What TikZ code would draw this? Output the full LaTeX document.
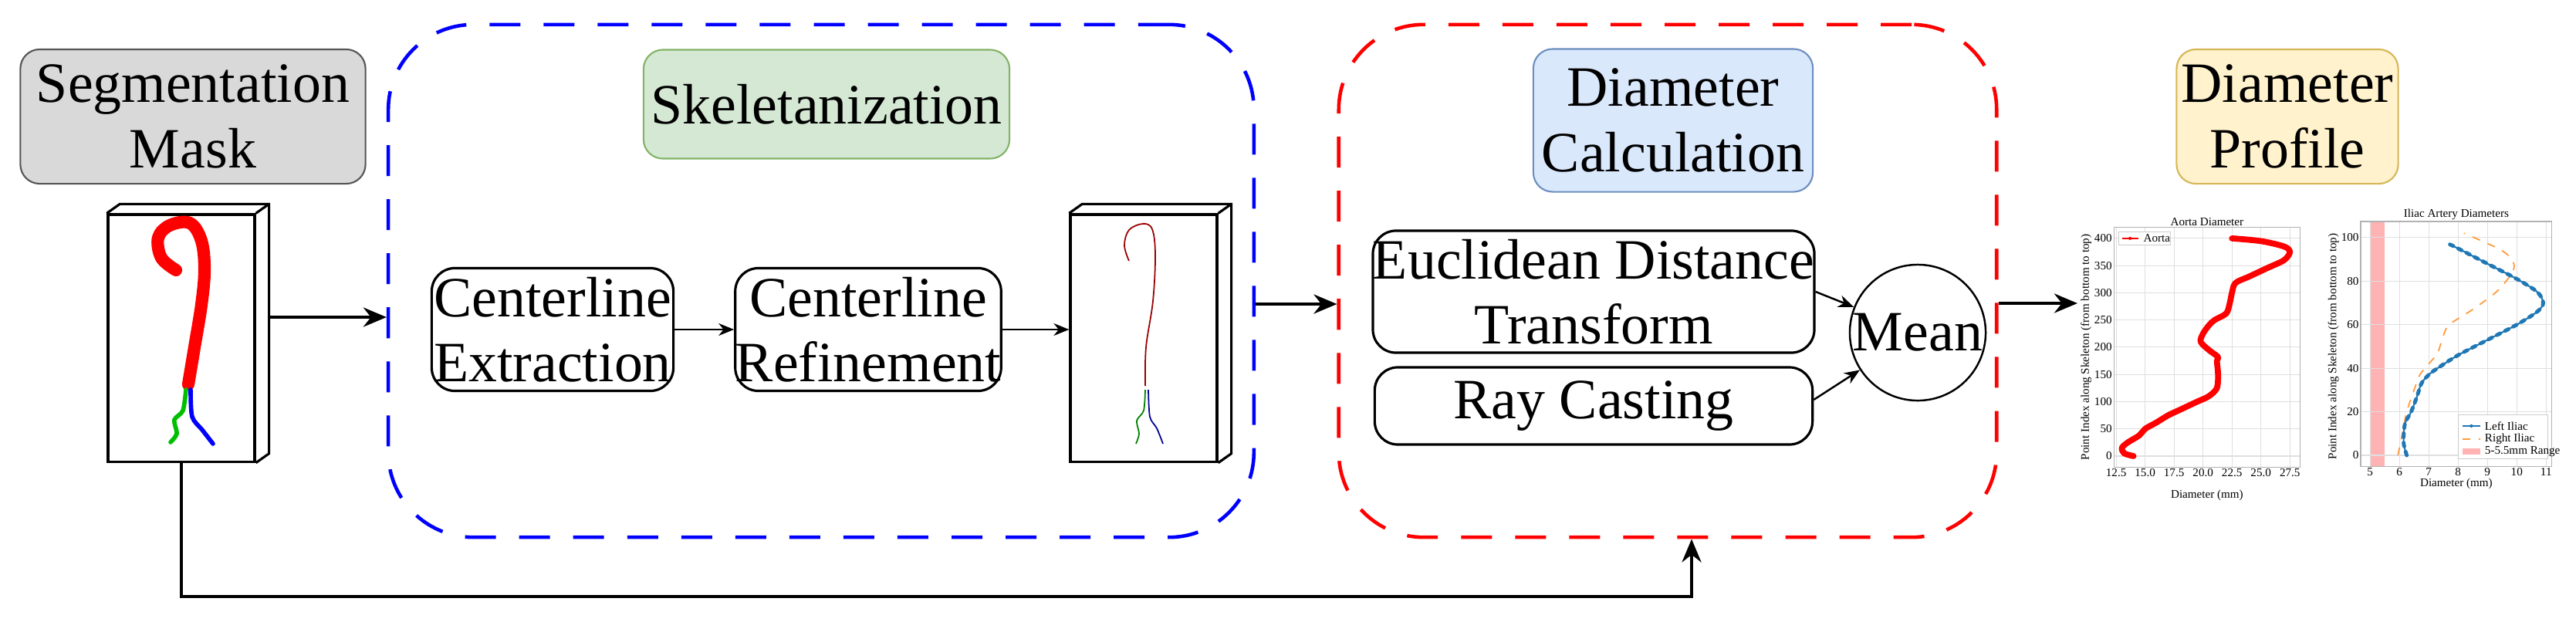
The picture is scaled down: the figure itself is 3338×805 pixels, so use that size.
\documentclass[tikz,border=0pt]{standalone}
\usepackage{fontspec}
\setmainfont{Liberation Serif}
\usetikzlibrary{arrows.meta,calc}
\definecolor{gfill}{HTML}{D5E8D4}\definecolor{gdraw}{HTML}{82B366}
\definecolor{bfill}{HTML}{DAE8FC}\definecolor{bdraw}{HTML}{6C8EBF}
\definecolor{yfill}{HTML}{FFF2CC}\definecolor{ydraw}{HTML}{D6B656}
\definecolor{sfill}{HTML}{D9D9D9}\definecolor{sdraw}{HTML}{555555}
\definecolor{lblue}{HTML}{1F77B4}\definecolor{lorange}{HTML}{FF9A3C}
\definecolor{pinkb}{HTML}{FFB3B3}
\tikzset{
 big/.style={font=\fontsize{21}{24}\selectfont, align=center, inner sep=0pt},
 ttl/.style={big, rounded corners=0.25cm, line width=0.6pt},
 stp/.style={big, draw, rounded corners=0.3cm, line width=0.9pt},
 grp/.style={draw, dashed, dash pattern=on 0.4cm off 0.3cm, line width=1.3pt, rounded corners=1.1cm},
 arr/.style={-{Stealth[length=0.3cm,width=0.25cm]}, line width=1.2pt},
 sarr/.style={-{Stealth[length=0.2cm,width=0.16cm]}, line width=0.7pt},
 vol/.style={draw, line width=0.9pt, minimum width=1.9cm, minimum height=3.2cm, fill=white},
 tk/.style={font=\fontsize{4.3}{5}\selectfont, inner sep=0.5pt},
 gl/.style={gray!25, line width=0.3pt},
}
\newcommand{\volside}[1]{%
 \draw[line width=0.9pt] (#1.north west) -- ++(17,-12) -- ($(#1.north east)+(17,-12)$) -- ($(#1.south east)+(17,-12)$) -- (#1.south east);
 \draw[line width=0.9pt] (#1.north east) -- ++(17,-12);}
\begin{document}
\begin{tikzpicture}[x=0.01cm,y=-0.01cm]
\useasboundingbox (0,0) rectangle (3338,805);
% groups
\node[grp, draw=blue, minimum width=11.21cm, minimum height=6.64cm] (blue) at (1064,364) {};
\node[grp, draw=red, minimum width=8.52cm, minimum height=6.64cm] (red) at (2161,364) {};
% titles
\node[ttl, draw=sdraw, fill=sfill, minimum width=4.47cm, minimum height=1.74cm] (segt) at (250,151) {Segmentation\\Mask};
\node[ttl, draw=gdraw, fill=gfill, minimum width=4.74cm, minimum height=1.41cm] (sket) at (1071,135) {Skeletanization};
\node[ttl, draw=bdraw, fill=bfill, minimum width=3.62cm, minimum height=1.85cm] (diat) at (2168,156) {Diameter\\Calculation};
\node[ttl, draw=ydraw, fill=yfill, minimum width=2.87cm, minimum height=1.74cm] (prof) at (2964,151) {Diameter\\Profile};
% steps
\node[stp, minimum width=3.13cm, minimum height=1.59cm] (ext) at (716,427) {Centerline\\Extraction};
\node[stp, minimum width=3.31cm, minimum height=1.59cm] (ref) at (1125,427) {Centerline\\Refinement};
\node[stp, minimum width=5.67cm, minimum height=1.58cm] (edt) at (2065,378) {Euclidean Distance\\Transform};
\node[stp, minimum width=5.67cm, minimum height=1.0cm] (ray) at (2065,526) {Ray Casting};
\node[big, draw, circle, line width=0.7pt, minimum size=1.76cm] (mean) at (2485,431) {Mean};
% volumes
\node[vol] (mask) at (235,438) {};
\volside{mask}
\node[vol] (skel) at (1482,438) {};
\volside{skel}
% aorta mask
\draw[red, line width=4.6pt, line cap=round, line join=round] plot[smooth, tension=0.6] coordinates {(228,350) (209,334) (205,308) (220,292) (246,289) (261,312) (265,350) (261,395) (252,450) (244,498)};
\draw[green!75!black, line width=1.6pt, line cap=round] plot[smooth] coordinates {(241,505) (237,532) (226,544) (229,562) (221,573)};
\draw[blue, line width=1.6pt, line cap=round] plot[smooth] coordinates {(247,505) (249,540) (262,557) (276,575)};
% skeleton
\begin{scope}[shift={(1247,0)}]
\draw[red!60!black, line width=0.5pt] plot[smooth, tension=0.6] coordinates {(216,338) (210,318) (216,298) (234,290) (246,297) (250,330) (247,390) (238,450) (237,500)};
\draw[green!50!black, line width=0.5pt] plot[smooth] coordinates {(237,505) (235,532) (226,545) (229,562) (225,575)};
\draw[blue!60!black, line width=0.5pt] plot[smooth] coordinates {(241,505) (243,540) (252,555) (260,575)};
\end{scope}
% connectors
\coordinate (m1) at (347,411);
\draw[arr] (m1) -- (m1 -| blue.west);
\draw[sarr] (ext) -- (ref);
\draw[sarr] (ref) -- (ref -| skel.west);
\draw[arr] ($(blue.east)+(0,30)$) -- ($(red.west)+(0,30)$);
\coordinate (pin) at (2692,393);
\draw[arr] (red.east |- pin) -- (pin);
\draw[sarr] (edt.east) -- (mean);
\draw[sarr] ($(ray.east)+(0,-8)$) -- (mean);
\coordinate (fb) at ($(red.south)+(31,0)$);
\draw[arr] (mask.south) -- (mask.south |- 0,773) -- (fb |- 0,773) -- (fb);
% ---------- Aorta plot
\begin{scope}[shift={(2554.5,591)}, x=0.15cm, y=0.00705cm]
\foreach \v in {12.5,15.0,17.5,20.0,22.5,25.0,27.5}{\draw[gl] (\v,-20) -- (\v,420); \node[tk, below] at (\v,-20) {\v};}
\foreach \v in {0,50,...,400}{\draw[gl] (12.3,\v) -- (28.4,\v); \node[tk, left] at (12.3,\v) {\v};}
\draw[gray!60, line width=0.3pt] (12.3,-20) rectangle (28.4,420);
\draw[red, line width=2.2pt, line cap=round, line join=round] plot[smooth] coordinates {(14,0) (13.2,5) (13,15) (13.5,25) (14.5,38) (15,50) (16,62) (17,75) (18,85) (19.5,100) (20.5,110) (21.2,125) (21.3,150) (21.2,175) (21.3,182) (20.5,195) (19.8,210) (20,225) (20.5,240) (21,250) (22,262) (22.3,280) (22.5,300) (22.8,318) (24,330) (25.5,345) (27,360) (27.5,375) (27,385) (25,395) (22.5,400)};
\node[tk] (at) at (20.35,430) {Aorta Diameter};
\node[tk] (ax) at (20.35,-72) {Diameter (mm)};
\node[tk, rotate=90] (ay) at (9.9,200) {Point Index along Skeleton (from bottom to top)};
\draw[gray!40, line width=0.3pt, fill=white] (12.7,388) rectangle (17.2,412);
\draw[red, line width=0.6pt] (13.0,400) -- (14.4,400);
\fill[red] (13.7,400) circle[radius=0.6pt];
\node[tk, anchor=west] (al) at (14.7,400) {Aorta};
\end{scope}
% ---------- Iliac plot
\begin{scope}[shift={(2881,590)}, x=0.38cm, y=0.0282cm]
\fill[pinkb] (5,-5) rectangle (5.5,107.4);
\foreach \v in {5,...,11}{\draw[gl] (\v,-5) -- (\v,107.4); \node[tk, below] at (\v,-5) {\v};}
\foreach \v in {0,20,...,100}{\draw[gl] (4.68,\v) -- (11.2,\v); \node[tk, left] at (4.68,\v) {\v};}
\draw[gray!60, line width=0.3pt] (4.68,-5) rectangle (11.2,107.4);
\draw[lorange, line width=0.5pt, dashed] plot[smooth] coordinates {(5.95,0) (6.1,10) (6.25,20) (6.5,30) (6.7,37) (7,42) (7.3,47) (7.5,55) (7.7,60) (8.5,67) (9.3,75) (9.8,83) (9.9,88) (9.5,94) (8.2,102)};
\draw[lblue, line width=1.4pt, dotted, line cap=round] plot[smooth] coordinates {(6.25,0) (6.15,5) (6.15,10) (6.2,15) (6.4,20) (6.6,27) (6.75,33) (7,37) (7.3,40) (8,46) (9,53) (10,60) (10.7,66) (10.9,70) (10.7,75) (10,81) (9,88) (8,95) (7.7,97)};
\draw[lblue, line width=0.6pt] plot[smooth] coordinates {(6.25,0) (6.15,5) (6.15,10) (6.2,15) (6.4,20) (6.6,27) (6.75,33) (7,37) (7.3,40) (8,46) (9,53) (10,60) (10.7,66) (10.9,70) (10.7,75) (10,81) (9,88) (8,95) (7.7,97)};
\node[tk] (it) at (7.94,110.5) {Iliac Artery Diameters};
\node[tk] (ix) at (7.94,-13) {Diameter (mm)};
\node[tk, rotate=90] (iy) at (3.75,50) {Point Index along Skeleton (from bottom to top)};
\draw[gray!40, line width=0.3pt, fill=white] (8.0,-1.5) rectangle (11.05,18.5);
\draw[lblue, line width=0.6pt] (8.15,13.5) -- (8.75,13.5); \fill[lblue] (8.45,13.5) circle[radius=0.6pt];
\node[tk, anchor=west] (l1) at (8.85,13.5) {Left Iliac};
\draw[lorange, line width=0.5pt, dashed] (8.15,7.5) -- (8.75,7.5);
\node[tk, anchor=west] (l2) at (8.85,7.5) {Right Iliac};
\fill[pinkb] (8.15,0.3) rectangle (8.75,3.3);
\node[tk, anchor=west] (l3) at (8.85,1.8) {5-5.5mm Range};
\end{scope}
\end{tikzpicture}
\end{document}
